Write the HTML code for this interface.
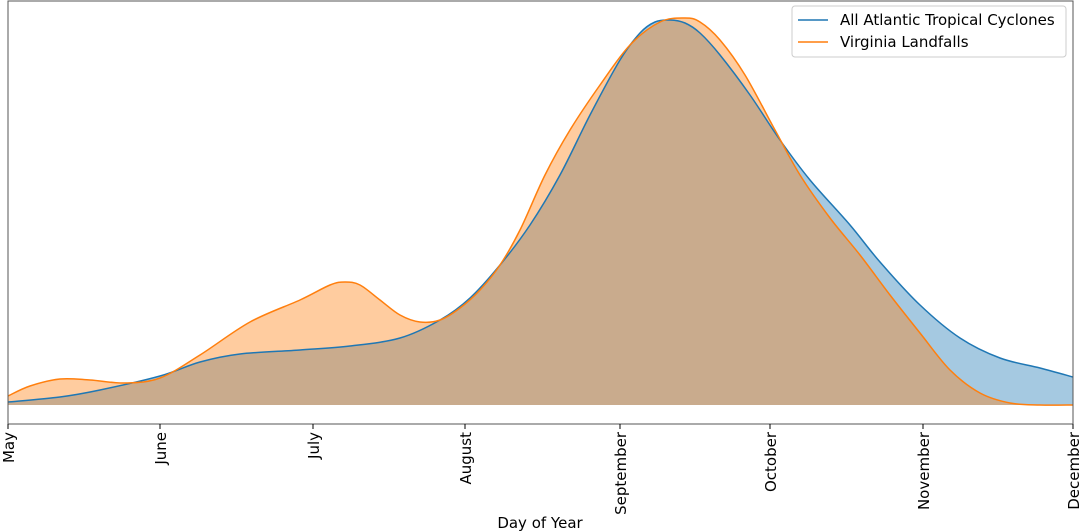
<!DOCTYPE html>
<html><head><meta charset="utf-8"><style>
html,body{margin:0;padding:0;background:#fff;}
svg{display:block;font-family:"DejaVu Sans","Liberation Sans",sans-serif;}
</style></head><body>
<svg id="s" width="1080" height="532" viewBox="0 0 1080 532" xmlns="http://www.w3.org/2000/svg">
<rect x="0" y="0" width="1080" height="532" fill="#fff"/>
<polygon id="bf" fill="#1f77b4" fill-opacity="0.4" stroke="none" points="8,405 8,402 60,397 100,390 160,376 200,362 240,354 300,350 350,346 400,338 440,320 470,298 500,265 530,225 560,175 590,115 620,60 640,33 655,22 670,20 685,23 700,33 720,55 750,95 780,140 810,180 850,225 880,262 920,305 960,338 1000,358 1040,368 1073,377 1073,405"/>
<polygon id="of" fill="#ff7f0e" fill-opacity="0.4" stroke="none" points="8,405 8,396 30,386 60,379 90,380 125,383 160,378 200,355 250,322 300,300 330,285 345,282 360,285 380,300 400,315 420,322 440,320 460,308 480,290 500,265 520,230 545,175 570,130 600,85 630,45 660,22 685,18 700,22 720,40 745,75 775,130 800,175 830,218 860,255 890,295 920,333 950,370 980,393 1010,403 1040,405 1073,405 1073,405"/>
<polyline id="bl" fill="none" stroke="#1f77b4" stroke-width="1.5" points="8,402 60,397 100,390 160,376 200,362 240,354 300,350 350,346 400,338 440,320 470,298 500,265 530,225 560,175 590,115 620,60 640,33 655,22 670,20 685,23 700,33 720,55 750,95 780,140 810,180 850,225 880,262 920,305 960,338 1000,358 1040,368 1073,377"/>
<polyline id="ol" fill="none" stroke="#ff7f0e" stroke-width="1.5" points="8,396 30,386 60,379 90,380 125,383 160,378 200,355 250,322 300,300 330,285 345,282 360,285 380,300 400,315 420,322 440,320 460,308 480,290 500,265 520,230 545,175 570,130 600,85 630,45 660,22 685,18 700,22 720,40 745,75 775,130 800,175 830,218 860,255 890,295 920,333 950,370 980,393 1010,403 1040,405 1073,405"/>
<rect x="8" y="1" width="1065" height="423" fill="none" stroke="#555" stroke-width="1"/>
<g stroke="#000" stroke-width="1">
<line x1="8" y1="424" x2="8" y2="429"/><line x1="160" y1="424" x2="160" y2="429"/><line x1="313" y1="424" x2="313" y2="429"/><line x1="465" y1="424" x2="465" y2="429"/><line x1="620" y1="424" x2="620" y2="429"/><line x1="770" y1="424" x2="770" y2="429"/><line x1="923" y1="424" x2="923" y2="429"/><line x1="1073" y1="424" x2="1073" y2="429"/>
</g>
<g font-size="15" fill="#000" text-anchor="end">
<text transform="translate(14,432) rotate(-90)">May</text>
<text transform="translate(166,432) rotate(-90)">June</text>
<text transform="translate(319,432) rotate(-90)">July</text>
<text transform="translate(471,432) rotate(-90)">August</text>
<text transform="translate(626,432) rotate(-90)">September</text>
<text transform="translate(776,432) rotate(-90)">October</text>
<text transform="translate(929,432) rotate(-90)">November</text>
<text transform="translate(1079,432) rotate(-90)">December</text>
</g>
<text x="540" y="528" font-size="15" text-anchor="middle">Day of Year</text>
<rect x="792" y="6" width="274" height="51" rx="3" fill="#fff" fill-opacity="0.8" stroke="#ccc"/>
<line x1="798" y1="20" x2="828" y2="20" stroke="#1f77b4" stroke-width="1.5"/>
<line x1="798" y1="42" x2="828" y2="42" stroke="#ff7f0e" stroke-width="1.5"/>
<text x="840" y="25" font-size="15">All Atlantic Tropical Cyclones</text>
<text x="840" y="47" font-size="15">Virginia Landfalls</text>
</svg>
<script>
(function(){
var NS="http://www.w3.org/2000/svg";
function pts(el){return el.getAttribute("points").trim().split(/\s+/).map(function(p){return p.split(",").map(Number);});}
function smooth(p){
 var d="M"+p[0][0]+","+p[0][1];
 for(var i=0;i<p.length-1;i++){
  var p0=p[i-1]||p[i],p1=p[i],p2=p[i+1],p3=p[i+2]||p2;
  var c1x=p1[0]+(p2[0]-p0[0])/6,c1y=p1[1]+(p2[1]-p0[1])/6;
  var c2x=p2[0]-(p3[0]-p1[0])/6,c2y=p2[1]-(p3[1]-p1[1])/6;
  d+=" C"+c1x+","+c1y+" "+c2x+","+c2y+" "+p2[0]+","+p2[1];
 }
 return d;
}
function rep(id,fill){
 var el=document.getElementById(id);var p=pts(el);var d;
 if(fill){var inner=p.slice(1,p.length-1);d="M8,405 L"+inner[0][0]+","+inner[0][1]+smooth(inner).replace(/^M[^ ]+/,"")+" L1073,405 Z";}
 else d=smooth(p);
 var path=document.createElementNS(NS,"path");path.setAttribute("d",d);
 ["fill","fill-opacity","stroke","stroke-width"].forEach(function(a){if(el.getAttribute(a)!==null)path.setAttribute(a,el.getAttribute(a));});
 el.parentNode.replaceChild(path,el);
}
try{rep("bf",1);rep("of",1);rep("bl",0);rep("ol",0);}catch(e){}
})();
</script>
</body></html>
